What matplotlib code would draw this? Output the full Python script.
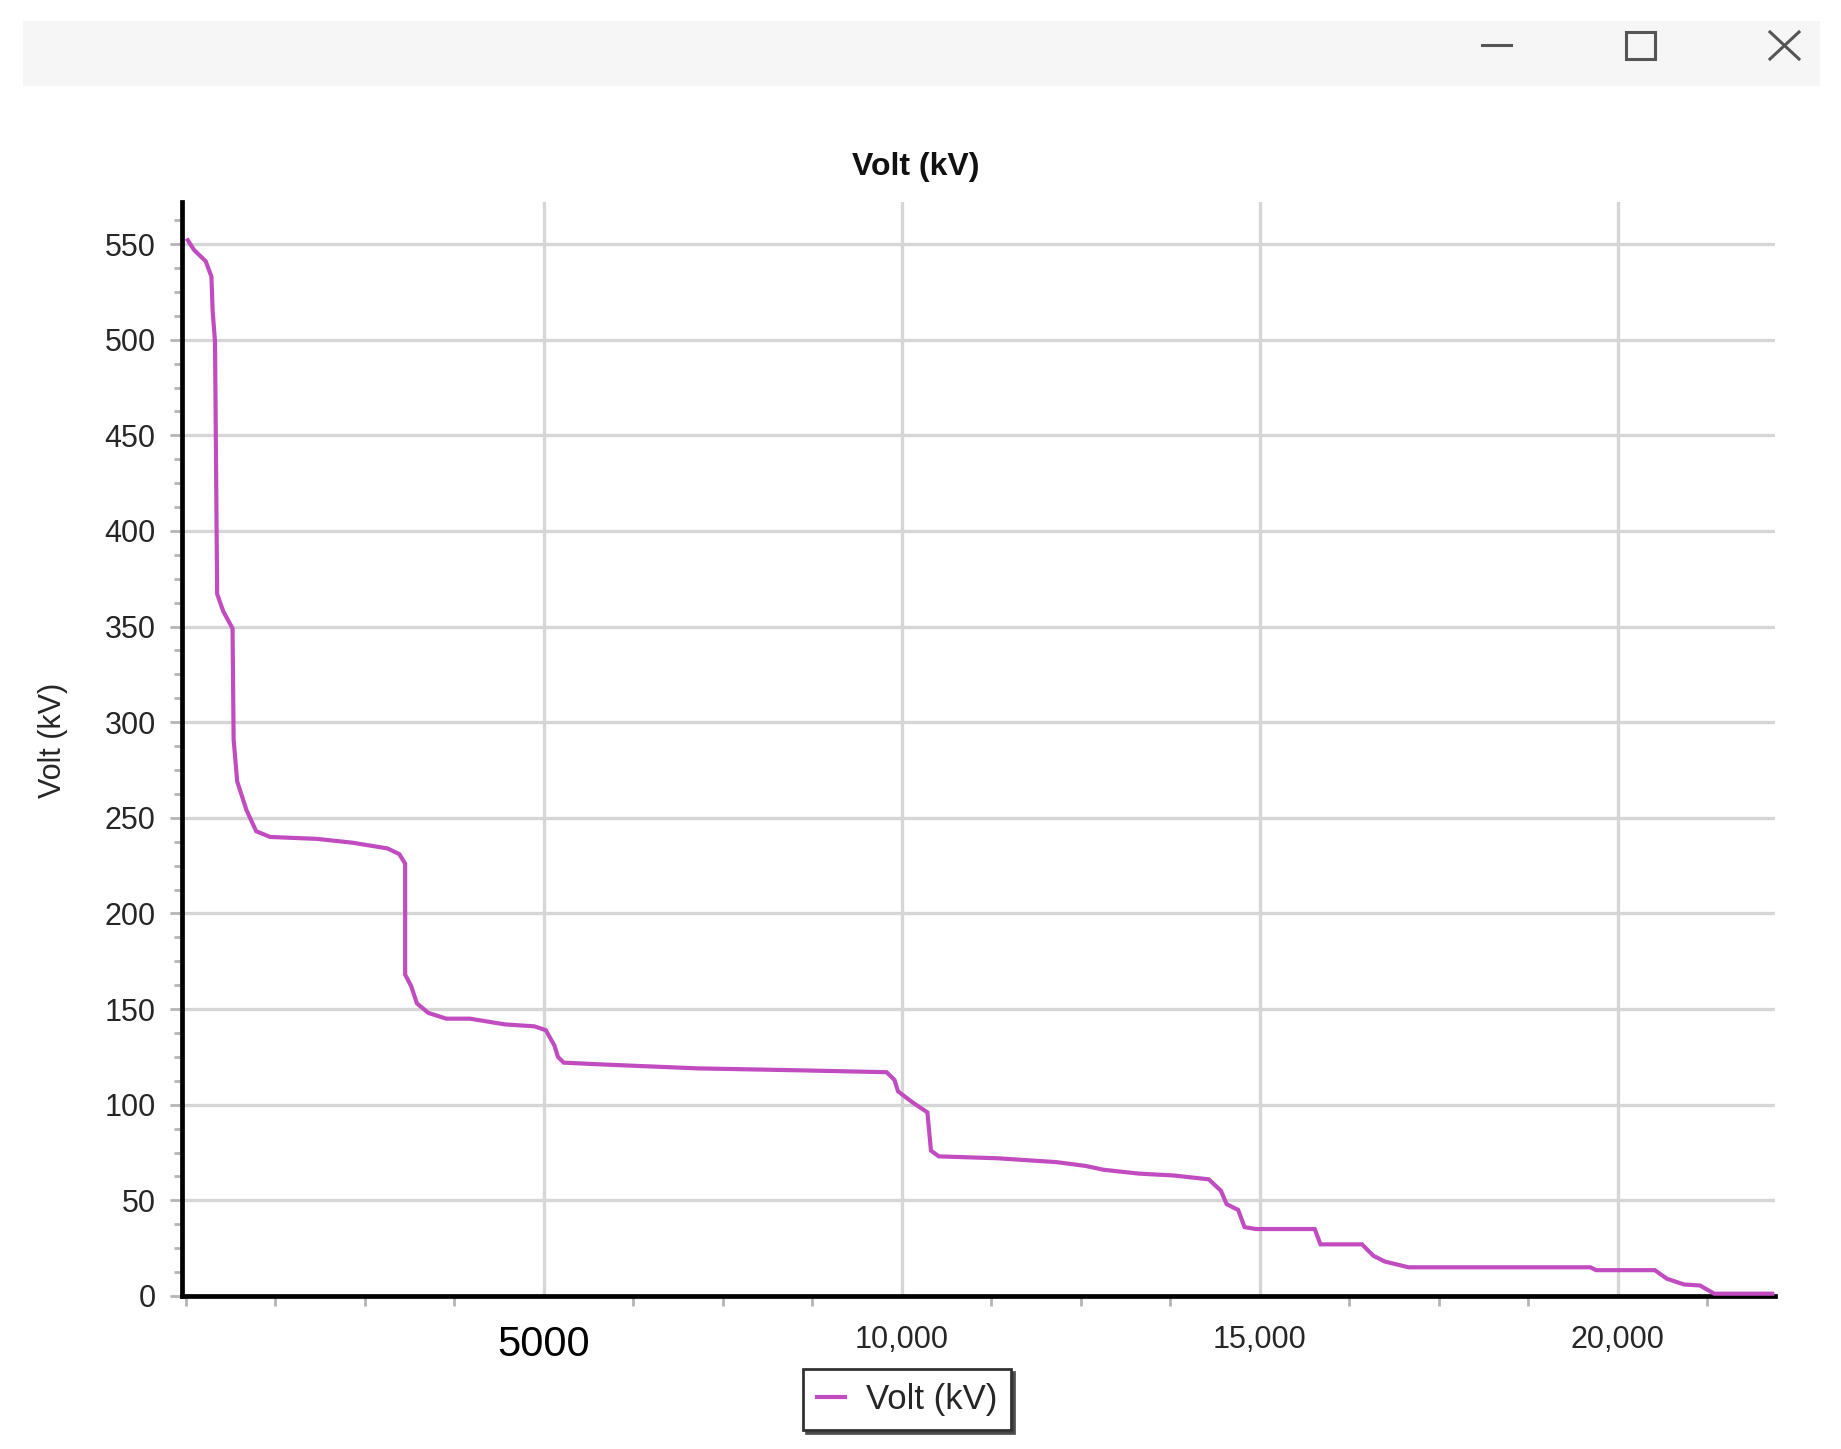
import matplotlib.pyplot as plt
from matplotlib.patches import Rectangle
from matplotlib.lines import Line2D
from matplotlib.ticker import MultipleLocator

# sample index vs voltage
sample = [30, 115, 280, 360, 377, 410, 440, 525, 655, 670, 720, 850, 985, 1180,
          1836, 2330, 2820, 2985, 3066, 3066, 3150, 3230, 3390, 3640, 3970, 4460,
          4870, 5030, 5150, 5200, 5280, 5850, 7160, 8560, 9790, 9900, 9950, 10160,
          10360, 10410, 10520, 11340, 12160, 12570, 12820, 13310, 13800, 14290,
          14460, 14540, 14700, 14790, 14950, 15770, 15850, 16430, 16590, 16750,
          17080, 19620, 19700, 20520, 20690, 20930, 21150, 21350, 22160]
volt = [552, 547, 541, 533, 515, 499, 367, 358, 349, 291, 269, 254, 243, 240,
        239, 237, 234, 231, 226, 168, 162, 153, 148, 145, 145, 142,
        141, 139, 131, 125, 122, 121, 119, 118, 117, 113, 107, 101,
        96, 76, 73, 72, 70, 68, 66, 64, 63, 61,
        55, 48, 45, 36, 35, 35, 27, 27, 21, 18,
        15, 15, 13.5, 13.5, 9, 6, 5.5, 1.2, 1.2]

x_ticks = [5000, 10000, 15000, 20000]
x_labels = ["5000", "10,000", "15,000", "20,000"]
y_ticks = list(range(0, 551, 50))

line_color = "#c04cc0"
text_color = "#262626"

plt.rcParams["font.family"] = ["Liberation Sans", "DejaVu Sans"]

fig = plt.figure(figsize=(18.41, 14.49), dpi=100)

# window title bar
fig.patches.append(Rectangle((23 / 1841, 1 - 86 / 1449), (1820 - 23) / 1841, 65 / 1449,
                             transform=fig.transFigure, facecolor="#f6f6f6",
                             edgecolor="none", zorder=0))
fig.lines.append(Line2D([1482 / 1841, 1511 / 1841], [1 - 45 / 1449] * 2,
                        transform=fig.transFigure, color="#555555", lw=2.2))
fig.patches.append(Rectangle((1626 / 1841, 1 - 59 / 1449), 29 / 1841, 27 / 1449,
                             transform=fig.transFigure, facecolor="none",
                             edgecolor="#555555", lw=2.2))
fig.lines.append(Line2D([1770 / 1841, 1799 / 1841], [1 - 32 / 1449, 1 - 59 / 1449],
                        transform=fig.transFigure, color="#555555", lw=2.2))
fig.lines.append(Line2D([1770 / 1841, 1799 / 1841], [1 - 59 / 1449, 1 - 32 / 1449],
                        transform=fig.transFigure, color="#555555", lw=2.2))

ax = fig.add_axes([0.0989, 0.1056, 0.8653, 0.755])
ax.plot(sample, volt, color=line_color, lw=3, label="Volt (kV)",
        solid_joinstyle="miter", zorder=3)

ax.set_xlim(-50, 22200)
ax.set_ylim(0, 572)
ax.set_yticks(y_ticks)
ax.yaxis.set_minor_locator(MultipleLocator(12.5))
ax.set_xticks(x_ticks, x_labels)
ax.xaxis.set_minor_locator(MultipleLocator(1250))

ax.grid(True, color="#d6d6d6", lw=2.4)
ax.set_axisbelow(True)
for s in ["top", "right"]:
    ax.spines[s].set_visible(False)
for s in ["left", "bottom"]:
    ax.spines[s].set_linewidth(3.4)
    ax.spines[s].set_color("black")
    ax.spines[s].set_zorder(2)

ax.tick_params(axis="y", which="major", length=9, width=2, color="#b5b5b5",
               labelsize=22, labelcolor=text_color, pad=10)
ax.tick_params(axis="y", which="minor", length=6, width=2, color="#b5b5b5")
ax.tick_params(axis="x", which="major", length=0, labelsize=22,
               labelcolor=text_color, pad=21)
ax.tick_params(axis="x", which="minor", length=7, width=2, color="#b5b5b5")

big = ax.get_xticklabels()[0]
big.set_fontsize(30)
big.set_color("black")

fig.text(0.4975, 0.885, "Volt (kV)", ha="center", va="center",
         fontsize=23, fontweight="bold", color="#111111")
fig.text(0.0288, 0.489, "Volt (kV)", ha="center", va="center",
         rotation=90, fontsize=22, color=text_color)

leg = fig.legend(loc="center", bbox_to_anchor=(0.4927, 0.034), fontsize=25,
                 fancybox=False, shadow={"color": "#444444", "alpha": 0.9},
                 edgecolor="#333333", framealpha=1, handlelength=0.8,
                 handletextpad=0.6, borderpad=0.4, borderaxespad=0)
leg.get_frame().set_linewidth(2)
for t in leg.get_texts():
    t.set_color(text_color)

fig.savefig("out.png", dpi=100)
